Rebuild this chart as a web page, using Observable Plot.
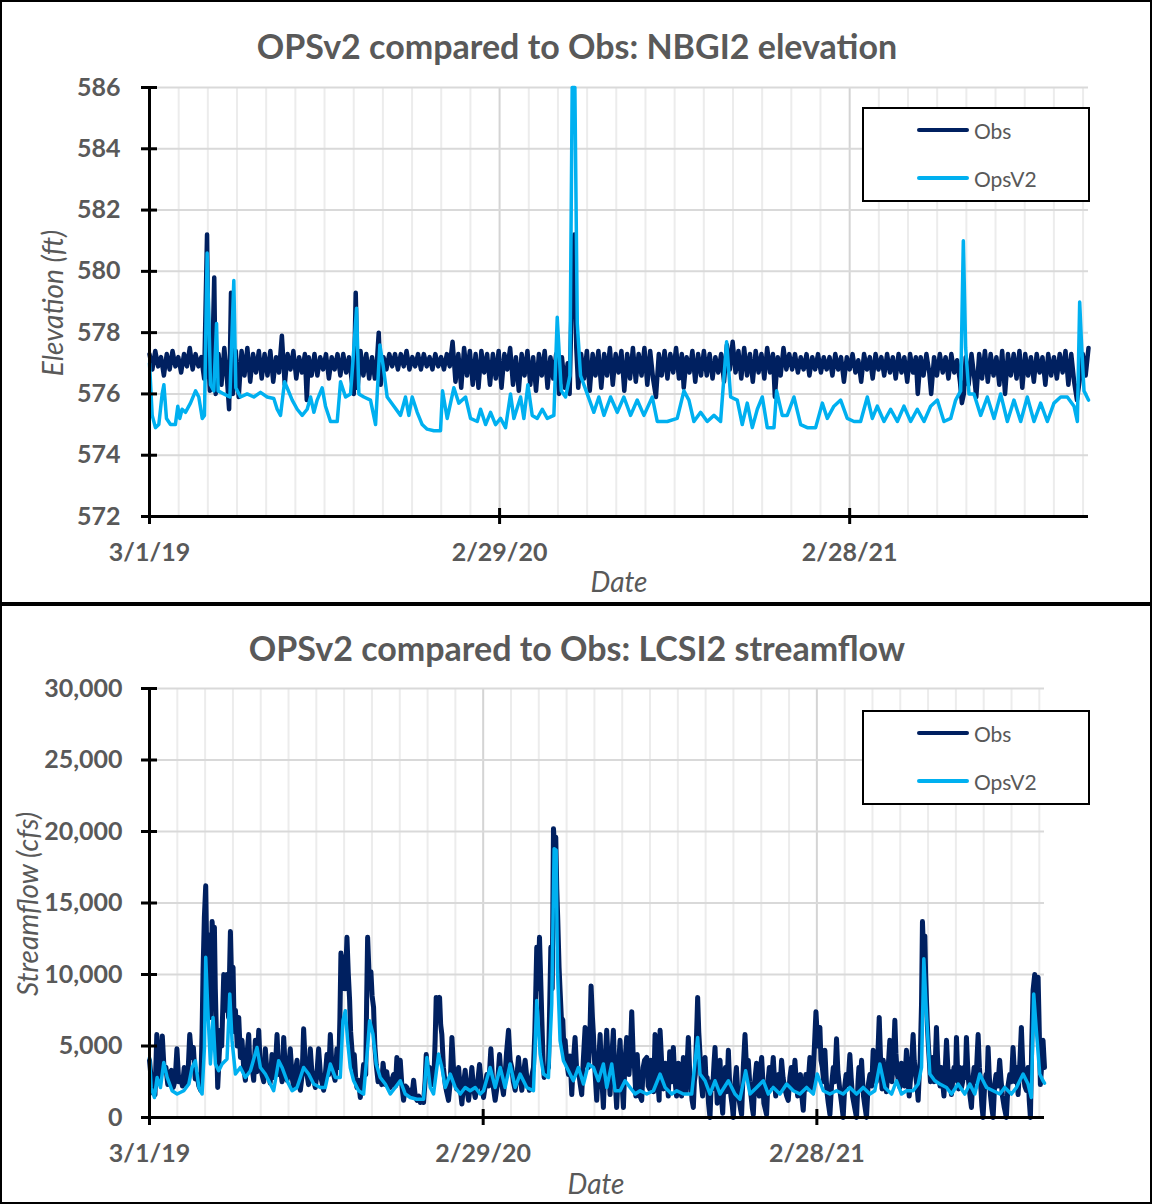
<!DOCTYPE html>
<html><head><meta charset="utf-8">
<script src="https://cdn.jsdelivr.net/npm/d3@7"></script>
<script src="https://cdn.jsdelivr.net/npm/@observablehq/plot@0.6"></script>
<style>
body{margin:0;background:#fff;font-family:Lato,sans-serif;}
#wrap{position:relative;width:1152px;height:1204px;overflow:hidden;background:#fff}
.panel{position:absolute;left:0;width:1152px;box-sizing:border-box;border:2px solid #000;background:#fff;overflow:hidden}
.panel svg{display:block}
.t{position:absolute;white-space:nowrap;color:#595959;transform:translate(-50%,-50%);line-height:1}
.title{font-weight:700;font-size:34px}
.axt{font-style:italic;font-size:28px}
.rot{transform:translate(-50%,-50%) rotate(-90deg)}
.legend{position:absolute;left:862px;width:228px;height:95px;box-sizing:border-box;border:2px solid #000;background:#fff}
.lg-line{position:absolute;left:53px;width:52px;border-radius:2px}
.lg-text{position:absolute;left:110px;font-size:21px;color:#595959;transform:translateY(-50%);line-height:1}
</style></head>
<body><div id="wrap"></div>
<script>
// ---------- data ----------
const startDate = "2019-03-01";
const endDay = 979;
const majorTickDates = ["2019-03-01", "2020-02-29", "2021-02-28"];
const majorTickLabels = ["3/1/19", "2/29/20", "2/28/21"];
const elevTicks = [572, 574, 576, 578, 580, 582, 584, 586];
const flowTicks = [0, 5000, 10000, 15000, 20000, 25000, 30000];
const seriesNames = ["Obs", "OpsV2"];
const seriesColors = ["#002060", "#00b0f0"];

// [day since 3/1/19, elevation ft]
const elevObs = [[0,577.3],[3,576.8],[6,577.4],[9,576.9],[12,577.2],[15,576.6],[18,577.3],[21,576.8],[24,577.4],[27,576.9],[30,577.2],[33,576.7],[36,577.3],[39,576.9],[42,577.5],[45,576.8],[48,577.3],[51,576.9],[54,577.2],[57,576.5],[60,581.2],[61.5,577],[63,576.1],[65,576.4],[67.5,579.8],[69,576.0],[72,577.3],[75,576.3],[78,577.5],[81,576.4],[83,575.5],[85,579.3],[87,576.0],[90,577.4],[93,575.9],[96,577.4],[99,576.6],[102,577.5],[105,576.4],[108,577.3],[111,576.7],[114,577.4],[117,576.5],[120,577.3],[123,576.6],[126,577.4],[129,576.4],[132,577.2],[135,576.7],[138,577.9],[141,576.3],[144,577.3],[147,576.8],[150,577.4],[153,576.5],[156,577.2],[159,576.7],[162,577.3],[164,575.8],[166,577.2],[169,576.6],[172,577.3],[175,576.6],[178,577.2],[181,576.8],[184,577.3],[187,576.5],[190,577.2],[193,576.8],[196,577.3],[199,576.6],[202,577.3],[205,576.7],[208,577.2],[211,576.4],[213,576.0],[215,579.3],[217,576.2],[220,577.4],[223,576.6],[226,577.3],[229,576.5],[232,577.2],[235,576.5],[237,577.0],[239,578.0],[241,576.3],[244,577.2],[247,576.8],[250,577.3],[253,576.9],[256,577.3],[259,576.8],[262,577.3],[265,576.9],[268,577.4],[271,576.8],[274,577.2],[277,576.9],[280,577.3],[283,576.8],[286,577.3],[289,576.9],[292,577.2],[295,576.8],[298,577.3],[301,576.9],[304,577.2],[307,576.8],[310,577.3],[313,576.9],[316,577.7],[319,576.4],[322,577.3],[325,576.2],[328,577.5],[331,576.6],[334,577.4],[337,576.3],[340,577.3],[343,576.2],[346,577.4],[349,576.7],[352,577.3],[355,576.3],[358,577.3],[361,576.5],[364,577.4],[367,576.2],[370,577.3],[373,576.8],[376,577.5],[379,576.3],[382,577.2],[385,576.1],[388,577.3],[391,576.6],[394,577.4],[397,576.3],[400,577.2],[403,576.1],[406,577.3],[409,576.6],[412,577.4],[415,576.2],[418,577.2],[421,576.5],[424,577.3],[427,576.0],[430,577.2],[433,576.2],[436,577.0],[438,576.0],[440,578.8],[443,581.2],[445,577.5],[447,576.2],[450,577.3],[453,576.5],[456,577.4],[459,576.1],[462,577.3],[465,576.6],[468,577.4],[471,576.2],[474,577.3],[477,576.6],[480,577.5],[483,576.3],[486,577.3],[489,576.7],[492,577.4],[495,576.1],[498,577.3],[501,576.5],[504,577.5],[507,576.4],[510,577.3],[513,576.6],[516,577.5],[519,576.3],[522,577.4],[525,576.5],[528,575.9],[531,577.3],[534,576.6],[537,577.4],[540,576.5],[543,577.3],[546,576.7],[549,577.5],[552,576.5],[555,577.3],[557,576.2],[560,577.2],[563,576.7],[566,577.4],[569,576.4],[572,577.3],[575,576.6],[578,577.4],[581,576.6],[584,577.3],[587,576.5],[590,577.2],[593,576.7],[596,577.3],[599,576.4],[602,577.6],[605,576.8],[608,577.7],[611,576.7],[614,577.4],[617,576.5],[620,577.5],[623,576.6],[626,577.3],[629,576.4],[632,577.4],[635,576.7],[638,577.3],[641,576.5],[644,577.5],[647,576.7],[650,577.3],[652,575.9],[655,577.2],[658,576.6],[661,577.5],[664,576.8],[667,577.3],[670,576.8],[673,577.3],[676,576.7],[679,577.2],[682,576.8],[685,577.3],[688,576.6],[691,577.2],[694,576.8],[697,577.3],[700,576.7],[703,577.2],[706,576.8],[709,577.2],[712,576.6],[715,577.3],[718,576.8],[721,577.2],[724,576.4],[727,577.2],[730,576.8],[733,577.3],[736,576.7],[739,577.1],[742,576.4],[745,577.3],[748,576.8],[751,577.2],[754,576.5],[757,577.3],[760,576.8],[763,577.2],[766,576.6],[769,577.3],[772,576.7],[775,577.2],[778,576.5],[781,577.3],[784,576.7],[787,577.2],[790,576.4],[793,577.3],[796,576.7],[799,577.2],[801,576.0],[804,577.2],[807,576.6],[810,577.3],[813,576.7],[815,576.0],[818,577.2],[821,576.6],[824,577.3],[827,576.7],[830,577.2],[833,576.5],[836,577.3],[839,576.7],[842,577.1],[845,576.4],[847,575.7],[849,576.0],[851,577.2],[854,576.3],[857,577.3],[860,576.5],[862,575.9],[865,577.3],[868,576.5],[871,577.4],[874,576.4],[877,577.3],[880,576.6],[883,577.2],[886,576.3],[889,577.4],[892,576.0],[895,577.3],[898,576.6],[901,577.3],[904,576.5],[907,577.4],[910,576.2],[913,577.3],[916,576.6],[919,577.2],[922,576.4],[925,577.3],[928,576.7],[931,577.2],[934,576.3],[937,577.3],[940,576.6],[943,577.2],[946,576.5],[949,577.3],[952,576.7],[955,577.4],[958,576.3],[961,577.3],[964,576.4],[967,575.8],[970,576.5],[973,577.3],[976,576.6],[979,577.5]];

const elevOps = [[0,577.0],[2.8,575.3],[6.2,574.9],[9.7,575.0],[13.2,576.0],[15,576.3],[17.7,575.2],[21.9,575.0],[27,575.0],[29.5,575.6],[31.6,575.2],[34,575.5],[37.5,575.4],[42.7,575.7],[48,576.1],[51.4,575.9],[55,575.2],[57.3,575.3],[60.1,580.6],[61.9,578.5],[63.6,576.3],[67,576.1],[69.9,578.3],[71.6,576.1],[77.5,576.0],[83.8,575.9],[87.9,579.7],[90,576.2],[94.9,575.9],[101.8,576.0],[108.8,575.9],[115.7,576.05],[122.7,575.9],[129.6,575.85],[133.1,575.5],[136.6,575.3],[140.8,576.4],[143.5,576.2],[148.8,575.8],[154,575.5],[159.2,575.3],[164.4,575.5],[167.9,575.9],[171.4,575.4],[174.8,575.8],[180,576.2],[183.5,575.6],[188.7,575.1],[195.7,575.1],[199.2,576.4],[204.4,575.9],[209.6,576.0],[213.1,577.5],[215.9,578.8],[218.3,576.0],[223.5,575.9],[230.4,575.8],[235.7,575.0],[240.2,577.6],[243.7,576.9],[247.8,575.9],[254.8,575.6],[261.7,575.3],[266.9,575.9],[270.4,575.3],[273.9,575.9],[279.1,575.4],[284.3,575.0],[289.5,574.85],[296.5,574.8],[303.4,574.8],[305.5,576.1],[310.4,575.2],[317.3,576.2],[322.5,575.7],[329.5,575.9],[334.7,575.2],[341.7,575.1],[345.2,575.5],[350.4,575.0],[355.6,575.4],[360.8,575.0],[366,575.2],[371.2,574.9],[376.4,576.0],[379.9,575.2],[386.9,575.9],[390.3,575.2],[394.5,576.3],[399,575.3],[404.3,575.2],[409.5,575.5],[414.7,575.2],[421.6,575.3],[425.1,578.5],[429.3,576.1],[433.8,575.9],[438.3,576.6],[440.7,586.0],[443.5,586.0],[446,578.3],[449.4,576.6],[456.4,576.0],[463.3,575.4],[468.5,575.9],[473.8,575.3],[480.7,575.9],[487.7,575.4],[494.6,575.9],[501.6,575.3],[508.5,575.8],[515.5,575.3],[524.2,575.9],[529.4,575.1],[539.8,575.1],[550.2,575.2],[557.2,576.1],[562.4,575.8],[567.6,575.1],[574.6,575.4],[581.5,575.1],[588.5,575.3],[595.4,575.1],[601.7,577.7],[605.9,575.9],[612.8,575.8],[618,575.0],[623.2,575.7],[628.5,574.9],[633.7,575.5],[638.9,575.9],[644.1,574.9],[651.1,574.9],[653.8,576.1],[659.7,575.3],[664.9,575.3],[671.9,575.9],[678.9,575.0],[685.8,574.9],[694.5,574.9],[701.5,575.7],[706.7,575.2],[713.6,575.6],[720.6,575.8],[727.5,575.2],[734.5,575.1],[741.4,575.1],[748.4,575.9],[753.6,575.2],[758.8,575.6],[765.8,575.1],[772.7,575.5],[779.7,575.1],[786.6,575.6],[793.6,575.1],[800.5,575.5],[807.5,575.1],[814.4,575.6],[821.4,575.8],[828.3,575.1],[835.3,575.2],[840.5,575.8],[845.7,576.1],[848.5,581.0],[850.9,577.5],[854.4,576.0],[859.6,576.0],[866.6,575.3],[873.5,575.9],[880.5,575.2],[887.4,576.0],[894.4,575.1],[901.3,575.8],[908.3,575.1],[915.2,575.9],[922.2,575.1],[929.1,575.7],[936.1,575.1],[943,575.7],[950,575.9],[956.9,575.9],[963.9,575.6],[967.4,575.1],[969.8,579.0],[971.5,577.8],[974.3,576.1],[979,575.8]];

// [day since 3/1/19, streamflow cfs]
const flowObs = [[0,4000],[2,2600],[4,1700],[6,1600],[8,5800],[10,3200],[12,2800],[14,5700],[16,3300],[18,3500],[20,2300],[22,3100],[24,3300],[26,2100],[28,2600],[30,4800],[32,2500],[34,2800],[36,2200],[38,3500],[40,2300],[42,2900],[44,5800],[46,4200],[48,4900],[50,2700],[52,3000],[54,2200],[56,1900],[57.5,6000],[58.6,10300],[60,14000],[61.5,16200],[62.5,12000],[63.7,12800],[64.8,9000],[65.9,10500],[67,7000],[68.5,13700],[70,12000],[71,13300],[72,9000],[73.2,5800],[74.6,2100],[76,4000],[77.6,6100],[79,5000],[81.2,10000],[83,7500],[84.8,10000],[86.5,7000],[88.5,13000],[90,9000],[91.4,10500],[92.7,6000],[94,7500],[96,5000],[97.6,7000],[99.5,4200],[101.2,5400],[103,3500],[104.9,2600],[106.5,4300],[108.5,5800],[110,3300],[112.2,3500],[114,2600],[115.8,5400],[117.5,3200],[119.5,6100],[121,3800],[123.1,3000],[125,2500],[126.7,4800],[128.5,3200],[130.4,3000],[132,2400],[134,4400],[136,2800],[137.5,3300],[139.5,5800],[141.5,3000],[143.1,3500],[145,2500],[146.8,5600],[148.5,3400],[150.4,2600],[152,3300],[154,4800],[156,2800],[157.7,2100],[159.5,3200],[161.4,4000],[163,2500],[165,1900],[167,3000],[168.6,6200],[170.5,3500],[172.3,3000],[174,2300],[175.9,4800],[177.5,3300],[179.5,2600],[181.4,2100],[183,3000],[185,4800],[187,3000],[188.5,2500],[190.5,1900],[192.3,3000],[194.1,4400],[196,3000],[197.8,5800],[199.5,3600],[201.4,3000],[203,2600],[205,4800],[207,3500],[208.3,7000],[209.4,11500],[211,9000],[212.4,11200],[214,9000],[216,12600],[217.5,10000],[218.9,8200],[220,6000],[221.5,4700],[223,3500],[224,4400],[225.5,2800],[226.9,2100],[228.5,2600],[230.6,1400],[232.5,2500],[234.2,3700],[236.5,3000],[237.5,8000],[238.6,12600],[240.5,9500],[242.2,10200],[243.5,8500],[245.1,7700],[246.5,5000],[248,3700],[250,2500],[252.4,3000],[254,2300],[255.5,3800],[257.9,2300],[259.5,3200],[261.5,2200],[263.4,2100],[265,2600],[267,3000],[269,2200],[270.6,4200],[272,2600],[274.3,4000],[276,2300],[277.9,1200],[280,2200],[281.6,2100],[283.5,1600],[285.2,1900],[287,1500],[288.9,2600],[290.5,1600],[292.5,1200],[294.5,1500],[296.2,1050],[298,1300],[299.8,1050],[301.5,2600],[302.7,4400],[304.5,3000],[306.3,3500],[308.9,2300],[311,2600],[312.5,5500],[313.6,8400],[315.5,7000],[317.3,8400],[318.5,6500],[319.8,5800],[321.5,3500],[323.5,2300],[325,1800],[327.1,1200],[329,2500],[330.8,5600],[332.5,3500],[334.4,3000],[336,2000],[338.1,3500],[340,2000],[341.7,950],[343.5,2300],[345.3,3300],[347,2000],[349,1200],[351,2300],[352.6,3500],[354.5,2000],[356.3,1400],[358.5,2200],[361,3700],[363,2300],[365.4,1400],[367,2100],[369,3000],[371,2200],[373.4,4800],[375.5,2400],[378.1,1200],[380.5,2300],[382.9,4400],[385,2500],[387.2,1600],[389,3000],[390.5,4500],[392.7,6100],[394.5,4000],[396.3,3500],[398,2500],[400,1900],[402,3000],[403.6,4200],[405.5,2800],[407.3,1900],[409,3000],[410.9,4000],[413,2600],[415.6,1900],[417.5,2700],[420,3500],[421.5,6000],[423.6,11900],[425,9000],[426.6,12600],[428,9500],[429.1,7000],[430.5,4000],[431.7,2800],[434,3200],[436.4,3500],[437.5,7000],[439,11900],[440.5,9000],[441.9,20200],[443,19000],[444.4,19600],[445.5,16000],[446.6,13800],[448,10500],[449.1,8900],[450.5,7000],[452.1,6800],[453.5,4500],[454.6,5400],[456.5,3800],[458.3,3000],[460,4300],[461.9,1600],[463.5,3800],[465.5,5600],[467.5,3000],[469.2,3300],[471,2400],[472.8,1600],[474.5,4000],[476.5,6300],[478,3800],[480.1,3500],[481.5,5200],[483,9200],[484.5,7000],[485.6,5800],[487.5,3000],[489.2,1200],[491,3500],[492.9,5800],[494.5,3000],[496.5,700],[498,3500],[500.1,6100],[502,3500],[503.8,1600],[505.5,4000],[507.4,6100],[509,3000],[511,700],[513,3500],[514.7,5400],[516.5,2800],[518.4,700],[520,3800],[522,5600],[524.5,3000],[526,4500],[527.5,7400],[529,4500],[530.5,3500],[532,1500],[533.5,4400],[535,2500],[536.5,1500],[538.4,1200],[540,3500],[541.5,4000],[543.9,4200],[545.5,2200],[547,2000],[548.5,4000],[550,3800],[551.5,1800],[553,5800],[554.5,3500],[556,2500],[557.5,1200],[558.5,6100],[560.5,3500],[562,2000],[564,3800],[565.8,3000],[567.5,1500],[569,4600],[571,2500],[573,4900],[574.5,2800],[576.5,1500],[578.5,3800],[580.3,3300],[582,1500],[584,4200],[585.5,2600],[587,1800],[588.3,4000],[589.4,5600],[591,3000],[592,2500],[593.5,1200],[594.9,700],[596,2500],[597,3000],[598.5,6000],[599.6,8400],[600.8,6000],[602.2,4400],[603.5,2500],[605,1500],[606.5,3500],[607.7,4200],[609,2200],[610,2800],[611.5,1000],[613.1,0],[614.5,2500],[616,2000],[617.5,3800],[618.6,4900],[620,2500],[621,1000],[622.5,3000],[624.1,4000],[625.5,1500],[627,300],[628.5,2800],[630,3500],[631.5,1800],[633.2,4700],[634.5,2500],[636,1500],[637.5,800],[638.6,0],[640.5,2500],[642,3500],[643.5,1800],[645,1200],[646.5,600],[647.7,200],[649.5,3500],[651.4,5800],[653,3500],[655,4000],[656.5,2500],[658,1500],[659.5,600],[660.5,200],[662,2500],[664,3800],[665.5,2200],[667,1500],[668.5,3500],[669.6,4200],[671,2500],[672,1000],[673.5,600],[675,200],[676.5,2500],[678,3500],[680,2200],[682.3,4200],[683.5,2800],[685,1500],[686.5,2600],[688,3000],[689.5,1800],[691.4,4000],[693,2800],[695,2000],[697,1500],[698.7,1200],[700.5,2800],[702,3500],[704,2000],[706,4000],[707.5,2500],[709,1500],[710.5,2600],[712,3000],[713.5,1500],[715.1,500],[716.5,2200],[718,3000],[720,2000],[722.4,4200],[723.5,3000],[725,2000],[727,4500],[729,7400],[731,5000],[733.3,6300],[734.5,4000],[736,3500],[737.5,2500],[738.8,4700],[740,3000],[741,1800],[742.5,1000],[744.3,200],[746,2200],[748,3500],[749.5,2500],[751.5,5500],[753,3200],[755,2000],[757,1000],[758.8,0],[760.5,2200],[762,3000],[764,2300],[766.1,4400],[767.5,2800],[769,1500],[771,800],[773.4,0],[775,2500],[776,3500],[777.5,2200],[778.9,4000],[780,2600],[781,1500],[782.5,800],[784.3,0],[786,2200],[788,3000],[790,2200],[791.6,4700],[793,3200],[795,2500],[796.5,4000],[798.2,7000],[799.2,5000],[800,3500],[801.3,2000],[802.6,4000],[804.5,2600],[806,1800],[808,3500],[809.8,5400],[811,3800],[812,2500],[813.8,4200],[815.3,6800],[816.5,4500],[818,3000],[819.5,2500],[820.8,2100],[822.5,3800],[824,3500],[826,2200],[828,4700],[829.5,2800],[831,1500],[833,3200],[835.3,5800],[836.5,4000],[838,3000],[839.5,2200],[840.8,1200],[842,3000],[843,4000],[844.5,8000],[845.5,13700],[847,11000],[848.1,12700],[849,10000],[850,8000],[851,6300],[852,5000],[853,4000],[854.3,2500],[855.4,3000],[856.8,4200],[858,2500],[859.5,3800],[860.8,6300],[862,4200],[863,3000],[864.8,2200],[866.3,3500],[867.5,2500],[869,1500],[870.5,3500],[871.8,5400],[873.5,3200],[875,2000],[876.2,3200],[877.2,1600],[878.5,2500],[880,3500],[881.5,2600],[882.7,5600],[884,3200],[885,2000],[886.5,3500],[888.2,2100],[889.5,2500],[891,3500],[892.3,2800],[893.6,5600],[895,3500],[896,2500],[897.5,1500],[899.1,700],[900.5,2500],[902,3500],[904,2500],[906.4,5800],[907.8,3500],[909,2500],[910.5,800],[911.8,0],[913.5,2200],[915,3000],[916.2,2500],[917.3,4900],[918.5,3000],[920,1500],[921.5,600],[922.8,0],[924.5,2300],[926,3000],[928,2200],[930,4000],[931.5,2600],[933,1500],[935,700],[937.3,0],[939,2200],[941,3000],[942.8,2500],[944.6,4900],[945.8,3500],[947,2500],[948.5,3500],[950.1,1600],[951.8,3500],[953.7,6300],[955,4000],[956,3000],[957.5,2200],[959.2,1900],[960,2800],[961,3500],[962.3,1200],[963.6,0],[965,5000],[966.5,8900],[968.3,10000],[969,8000],[970,7000],[971,8500],[972,9800],[973.3,6000],[974.5,2300],[975.8,3500],[977.4,5400],[979,3500]];

const flowOps = [[0,4200],[1.8,2100],[5.4,1400],[8.3,2800],[12,2100],[15.6,3850],[19.3,2800],[24.7,1870],[30.2,1640],[37.5,1870],[43,2340],[46.6,3500],[50.2,3970],[54,2100],[57.5,1640],[60.1,4900],[61.5,11200],[63.7,7700],[66.6,3740],[69.5,7000],[72.1,3740],[75.7,3270],[79.4,3740],[84.8,4090],[87.8,8640],[90.3,5370],[94,3040],[99.4,3500],[104.9,2800],[110.4,3270],[117.6,4900],[121.3,3500],[126.7,3040],[132.2,2340],[135.8,1870],[141.3,3970],[145,3500],[150.4,2570],[156,1870],[161.4,2100],[168.6,3500],[174.1,3040],[179.6,2340],[186.9,2100],[192.3,2100],[197.8,3740],[203.2,2800],[208.7,2800],[211.6,6770],[214.2,7470],[216.7,5370],[219.6,3500],[223.3,2570],[228.7,1870],[234.2,1640],[238.6,4900],[240.8,6770],[244.4,5840],[248,3740],[252.4,2800],[257.9,2340],[263.4,1640],[268.8,2100],[274.3,2570],[279.8,1640],[285.2,1400],[292.5,1280],[299.8,1280],[303.4,4200],[307.1,2100],[310.7,1640],[316.2,4440],[319.8,3500],[323.5,2100],[329,3040],[334.4,2100],[339.9,1640],[345.3,2100],[350.8,1870],[356.3,2100],[361.7,1640],[365.4,1870],[372.6,3500],[378.1,2100],[383.6,3500],[389,2100],[394.5,3740],[400,2100],[405.4,3040],[412.7,2100],[420,1870],[423.6,8180],[427.3,4440],[430.9,3040],[436.4,2800],[440,7940],[442.6,18800],[444.8,18700],[446.2,10500],[449.1,5370],[452.8,3970],[458.3,3270],[463.7,2570],[469.2,3500],[474.7,2340],[480.1,3740],[485.6,3500],[491,2570],[496.5,3740],[500.2,2100],[505.6,3740],[509.3,1870],[514.8,1870],[520.2,2570],[525.7,2100],[531.2,1640],[536.6,1870],[543.9,1640],[551.2,1870],[558.5,3040],[564,2100],[571.2,1640],[576.7,1870],[584,1640],[593.1,1640],[599.6,5600],[602.2,3040],[607.7,2570],[613.1,1640],[618.6,2570],[624.1,1640],[633.2,2570],[640.4,1640],[645.9,1280],[652.1,3270],[656.8,1640],[664.1,2100],[671.4,2570],[676.9,1640],[682.3,2100],[689.6,1640],[696.9,2340],[704.2,1870],[711.5,1640],[718.8,2100],[726.1,1640],[730.4,3040],[737,1870],[744.3,1640],[751.5,1870],[758.8,1640],[766.1,2100],[773.4,1640],[780.7,2100],[788,1640],[793.4,1870],[798.9,3740],[804.4,2100],[811.7,1640],[817.1,2570],[822.6,1640],[828,1870],[835.3,1870],[840.8,2340],[844.5,3500],[847,11100],[849.9,7240],[853.6,3040],[859,2570],[864.5,2340],[871.8,2100],[877.2,1640],[884.5,2340],[891.8,1640],[897.3,2340],[902.7,1640],[908.2,3040],[915.5,2100],[922.8,1870],[930.1,1640],[935.5,2100],[942.8,1640],[948.3,2100],[955.6,3040],[961,2340],[964.6,1400],[967.2,8640],[970.1,6070],[973.8,3040],[977.4,2570],[979,2400]];

// ---------- build ----------
const START = new Date(startDate + "T00:00:00Z").getTime();
const toDate = d => new Date(START + d * 864e5);
const toRows = arr => arr.map(([d, v]) => ({date: toDate(d), value: v}));
const x0 = toDate(0), x1 = toDate(endDay);
const majors = majorTickDates.map((d, i) => ({date: new Date(d + "T00:00:00Z"), label: majorTickLabels[i]}));
// minor gridlines: Excel minor unit (1/12 of the 365-day major unit)
const minors = d3.range(1, 33).filter(k => k % 12 !== 0).map(k => toDate(k * 365 / 12));
const GREY = "#595959";

function chart({width, height, mL, mR, mT, mB, yDomain, yTicks, yFmt, yDx, obs, ops, obsW}) {
  return Plot.plot({
    width, height, marginLeft: mL, marginRight: mR, marginTop: mT, marginBottom: mB,
    style: {fontFamily: "Lato, sans-serif", background: "#fff", overflow: "visible"},
    x: {type: "utc", domain: [x0, x1], axis: null},
    y: {domain: yDomain, axis: null},
    marks: [
      Plot.gridX(minors, {stroke: "#ececec", strokeOpacity: 1, strokeWidth: 2}),
      Plot.gridX(majors.slice(1).map(d => d.date), {stroke: "#d4d4d4", strokeOpacity: 1, strokeWidth: 2}),
      Plot.gridY(yTicks, {stroke: "#d9d9d9", strokeOpacity: 1, strokeWidth: 2}),
      Plot.line(toRows(obs), {x: "date", y: "value", stroke: seriesColors[0], strokeWidth: obsW, strokeLinejoin: "round", strokeLinecap: "round"}),
      Plot.line(toRows(ops), {x: "date", y: "value", stroke: seriesColors[1], strokeWidth: 3.5, strokeLinejoin: "round", strokeLinecap: "round"}),
      Plot.ruleX([x0], {stroke: "#000", strokeWidth: 3}),
      Plot.ruleY([yDomain[0]], {stroke: "#000", strokeWidth: 3}),
      Plot.ruleY(yTicks, {x1: x0, x2: x0, insetLeft: -8, insetRight: -8, stroke: "#000", strokeWidth: 3}),
      Plot.ruleX(majors, {x: "date", y1: yDomain[0], y2: yDomain[0], insetTop: -8, insetBottom: -8, stroke: "#000", strokeWidth: 3}),
      Plot.text(yTicks, {y: d => d, text: yFmt, frameAnchor: "left", textAnchor: "end", lineAnchor: "middle", dx: yDx, fontSize: 25, fontWeight: "bold", fill: GREY}),
      Plot.text(majors, {x: "date", text: "label", frameAnchor: "bottom", lineAnchor: "middle", dy: 36, fontSize: 25, fontWeight: "bold", fill: GREY})
    ]
  });
}

const wrap = document.getElementById("wrap");
function el(tag, cls, css, text) {
  const e = document.createElement(tag);
  if (cls) e.className = cls;
  Object.assign(e.style, css || {});
  if (text != null) e.textContent = text;
  return e;
}

// top panel
const p1 = el("div", "panel", {top: "0px", height: "604px"});
p1.appendChild(chart({width: 1148, height: 600, mL: 147, mR: 62, mT: 85, mB: 86,
  yDomain: [572, 586], yTicks: elevTicks, yFmt: d => String(d), yDx: -29, obs: elevObs, ops: elevOps, obsW: 4.5}));
wrap.appendChild(p1);

// bottom panel
const p2 = el("div", "panel", {top: "604px", height: "600px"});
p2.appendChild(chart({width: 1148, height: 596, mL: 147, mR: 106, mT: 82, mB: 85,
  yDomain: [0, 30000], yTicks: flowTicks, yFmt: d => d3.format(",")(d), yDx: -27, obs: flowObs, ops: flowOps, obsW: 5}));
wrap.appendChild(p2);

// titles and axis titles
wrap.appendChild(el("div", "t title", {left: "577px", top: "46px"}, "OPSv2 compared to Obs: NBGI2 elevation"));
wrap.appendChild(el("div", "t title", {left: "577px", top: "648px"}, "OPSv2 compared to Obs: LCSI2 streamflow"));
wrap.appendChild(el("div", "t axt rot", {left: "52px", top: "303px"}, "Elevation (ft)"));
wrap.appendChild(el("div", "t axt rot", {left: "27px", top: "904px"}, "Streamflow (cfs)"));
wrap.appendChild(el("div", "t axt", {left: "619px", top: "581px"}, "Date"));
wrap.appendChild(el("div", "t axt", {left: "596px", top: "1183px"}, "Date"));

// legends
function legend(top) {
  const box = el("div", "legend", {top: top + "px"});
  const rows = [21, 69];
  seriesNames.forEach((name, i) => {
    box.appendChild(el("div", "lg-line", {top: (rows[i] - (i ? 1.75 : 2)) + "px", height: (i ? 3.5 : 4) + "px", background: seriesColors[i]}));
    box.appendChild(el("div", "lg-text", {top: rows[i] + "px"}, name));
  });
  wrap.appendChild(box);
}
legend(107);
legend(710);
</script>
</body></html>
